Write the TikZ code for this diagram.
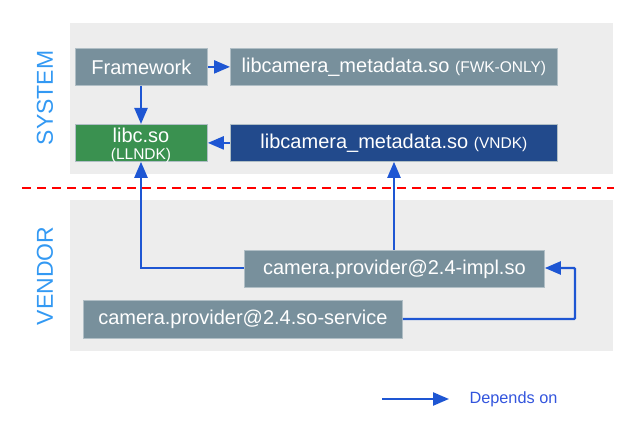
\documentclass[tikz,border=0pt]{standalone}
\usepackage{fontspec}
\setmainfont{Liberation Sans}
\usetikzlibrary{arrows.meta}
\definecolor{bggray}{HTML}{EDEDED}
\definecolor{boxgray}{HTML}{78909C}
\definecolor{boxgreen}{HTML}{3A9150}
\definecolor{boxblue}{HTML}{224A8C}
\definecolor{arrowblue}{HTML}{1E56D3}
\definecolor{labelblue}{HTML}{3399F3}
\definecolor{legendblue}{HTML}{3355DD}
\definecolor{edgegray}{HTML}{B0BEC5}
\definecolor{dashred}{HTML}{FF0000}
\tikzset{
  region/.style={fill=bggray, draw=none},
  libbox/.style={draw=edgegray, line width=0.8pt, text=white, inner sep=0pt, anchor=north west,
    font=\fontsize{20}{23}\selectfont},
  boxtext/.style={text=white, inner sep=0pt},
  side/.style={text=labelblue, rotate=90, font=\fontsize{23}{26}\selectfont},
  dep/.style={draw=arrowblue, line width=2.3pt, -{Triangle[length=16pt,width=13pt]}},
}
\newcommand{\smalltxt}{\fontsize{15.5}{18}\selectfont}
\begin{document}
\begin{tikzpicture}[x=1pt,y=-1pt]
\useasboundingbox (0,0) rectangle (636,427);
% regions
\fill[region] (70,23) rectangle (613,174);
\fill[region] (70,200) rectangle (613,351);
\draw[draw=dashred, line width=1.2pt, dash pattern=on 9pt off 6pt] (22,188) -- (614,188);
\node[side] (sys) at (45,98) {SYSTEM};
\node[side] (ven) at (45,276) {VENDOR};
% boxes
\node[libbox, fill=boxgray, minimum width=132pt, minimum height=37pt] (fw) at (75,48) {Framework};
\node[libbox, fill=boxgray, minimum width=327pt, minimum height=37pt] (fwk) at (230,48)
  {libcamera\_metadata.so {\smalltxt (FWK-ONLY)}};
\node[libbox, fill=boxgreen, minimum width=132pt, minimum height=37pt] (libc) at (75,124) {};
\node[boxtext, font=\fontsize{20}{23}\selectfont] (libct) at (141,135) {libc.so};
\node[boxtext, font=\smalltxt] (libcs) at (141,155.5) {(LLNDK)};
\node[libbox, fill=boxblue, minimum width=327pt, minimum height=37pt] (vndk) at (230,124)
  {libcamera\_metadata.so {\smalltxt (VNDK)}};
\node[libbox, fill=boxgray, minimum width=300pt, minimum height=37pt] (impl) at (244,250)
  {camera.provider@2.4-impl.so};
\node[libbox, fill=boxgray, minimum width=319pt, minimum height=38pt] (svc) at (83,300)
  {camera.provider@2.4.so-service};
% connectors
\coordinate (c1) at (141,268);
\coordinate (c2) at (575,319);
\coordinate (c3) at (575,268);
\draw[dep] (fw.east) -- (fwk.west);
\draw[dep] (fw.south -| c1) -- (libc.north -| c1);
\draw[dep] (vndk.west) -- (libc.east);
\draw[dep] (impl.west |- c1) -- (c1) -- (libc.south -| c1);
\draw[dep] (impl.north -| 394,0) -- (vndk.south -| 394,0);
\draw[dep, rounded corners=1pt] (svc.east |- c2) -- (c2) -- (c3) -- (impl.east |- c3);
% legend
\coordinate (l1) at (382,399);
\node[text=legendblue, anchor=west, font=\fontsize{16.3}{19}\selectfont] (leg) at (466,399) {Depends on};
\draw[dep] (l1) -- (leg.west -| 449,0);
\end{tikzpicture}
\end{document}
